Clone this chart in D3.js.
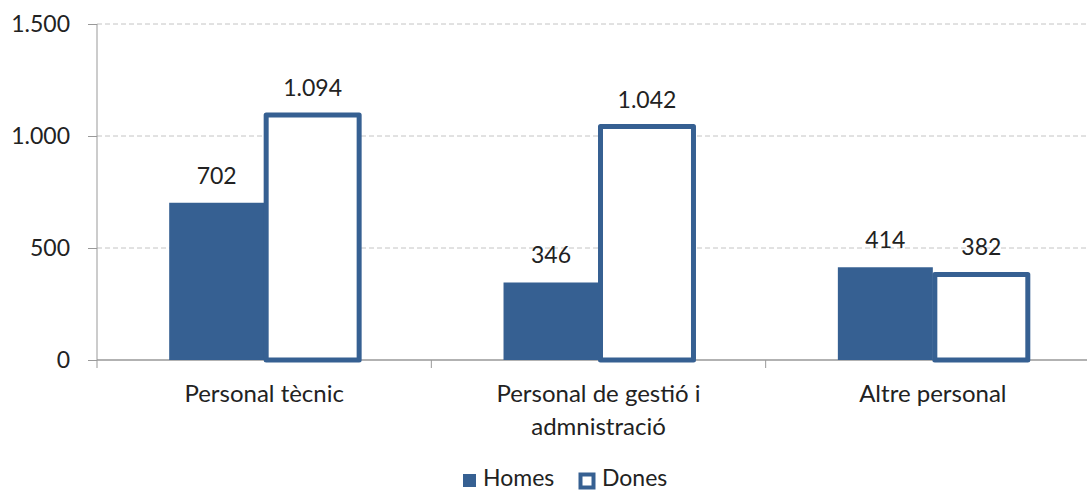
<!DOCTYPE html>
<html>
<head>
<meta charset="utf-8">
<script src="https://cdn.jsdelivr.net/npm/d3@7"></script>
<style>
  body { margin: 0; background: #fff; }
  text { font-family: Lato, "Liberation Sans", sans-serif; fill: #222; }
</style>
</head>
<body>
<svg id="chart"></svg>
<script>
// data
var categories = ["Personal tècnic", "Personal de gestió i\nadmnistració", "Altre personal"];
var seriesNames = ["Homes", "Dones"];
var homes = [702, 346, 414];
var dones = [1094, 1042, 382];
var yTicks = [0, 500, 1000, 1500];

var screen = {width: 1087, height: 493};
var margins = {left: 97, right: -13, top: 24, bottom: 133};

var graph = {
    width: screen.width - margins.left - margins.right,
    height: screen.height - margins.top - margins.bottom
};

var blue = "#366092";

var svg = d3.select("#chart")
    .attr("width", screen.width)
    .attr("height", screen.height);

var xScale = d3.scaleBand()
    .domain(categories)
    .range([0, graph.width]);

var xSub = d3.scaleBand()
    .domain(seriesNames)
    .range([0, xScale.bandwidth()])
    .paddingOuter(0.76);

var yScale = d3.scaleLinear()
    .domain([0, 1500])
    .range([graph.height, 0]);

var g = svg.append("g")
    .attr("transform", "translate(" + margins.left + "," + margins.top + ")");

// gridlines
g.selectAll(".grid")
    .data(yTicks.filter(function(d){ return d > 0; }))
    .enter().append("line")
    .attr("x1", 0).attr("x2", graph.width)
    .attr("y1", function(d){ return yScale(d); })
    .attr("y2", function(d){ return yScale(d); })
    .attr("stroke", "#c4c4c4")
    .attr("stroke-width", 1)
    .attr("stroke-dasharray", "5,3");

var fmt = function(v){ return d3.format(",")(v).replace(/,/g, "."); };

// y axis
var yAxis = d3.axisLeft(yScale)
    .tickValues(yTicks)
    .tickSize(9)
    .tickPadding(18)
    .tickFormat(fmt);

var ya = g.append("g").call(yAxis);
ya.select(".domain").attr("stroke", "#999").attr("d", "M0," + (graph.height + 8) + "V0");
ya.selectAll(".tick line").attr("stroke", "#999");
ya.selectAll(".tick text").style("font-size", "23px").attr("fill", "#222");

// x axis baseline with category dividers
var xa = g.append("g").attr("transform", "translate(0," + graph.height + ")");
xa.append("line")
    .attr("x1", 0).attr("x2", graph.width)
    .attr("stroke", "#999").attr("stroke-width", 1.3);
xa.selectAll(".divider")
    .data(categories)
    .enter().append("line")
    .attr("x1", function(d){ return xScale(d) + xScale.bandwidth(); })
    .attr("x2", function(d){ return xScale(d) + xScale.bandwidth(); })
    .attr("y1", 0).attr("y2", 8)
    .attr("stroke", "#999");

// bars
var groups = g.selectAll(".group")
    .data(categories)
    .enter().append("g")
    .attr("transform", function(d){ return "translate(" + xScale(d) + ",0)"; });

groups.append("rect")
    .attr("x", xSub("Homes"))
    .attr("width", xSub.bandwidth())
    .attr("y", function(d, i){ return yScale(homes[i]); })
    .attr("height", function(d, i){ return graph.height - yScale(homes[i]); })
    .attr("fill", blue);

groups.append("rect")
    .attr("x", xSub("Dones") + 2)
    .attr("width", xSub.bandwidth() - 2)
    .attr("y", function(d, i){ return yScale(dones[i]); })
    .attr("height", function(d, i){ return graph.height - yScale(dones[i]); })
    .attr("fill", "#fff")
    .attr("stroke", blue)
    .attr("stroke-width", 5)
    .attr("stroke-linejoin", "round");

groups.append("text")
    .attr("x", xSub("Homes") + xSub.bandwidth() / 2)
    .attr("y", function(d, i){ return yScale(homes[i]) - 19; })
    .attr("text-anchor", "middle")
    .style("font-size", "23px")
    .text(function(d, i){ return fmt(homes[i]); });

groups.append("text")
    .attr("x", xSub("Dones") + xSub.bandwidth() / 2 + 1)
    .attr("y", function(d, i){ return yScale(dones[i]) - 19; })
    .attr("text-anchor", "middle")
    .style("font-size", "23px")
    .text(function(d, i){ return fmt(dones[i]); });

// category labels
groups.each(function(d){
    var lines = d.split("\n");
    var t = d3.select(this).append("text")
        .attr("text-anchor", "middle")
        .style("font-size", "24px");
    lines.forEach(function(line, k){
        t.append("tspan")
            .attr("x", xScale.bandwidth() / 2)
            .attr("y", graph.height + 42 + k * 33)
            .text(line);
    });
});

// legend
var legend = svg.append("g").attr("transform", "translate(463,474)");
legend.append("rect")
    .attr("x", 0).attr("y", 0).attr("width", 13).attr("height", 13)
    .attr("fill", blue);
legend.append("text")
    .attr("x", 20).attr("y", 12)
    .style("font-size", "23px")
    .text(seriesNames[0]);
legend.append("rect")
    .attr("x", 117.5).attr("y", 0.5).attr("width", 13).attr("height", 13)
    .attr("fill", "#fff").attr("stroke", blue).attr("stroke-width", 4);
legend.append("text")
    .attr("x", 139).attr("y", 12)
    .style("font-size", "23px")
    .text(seriesNames[1]);
</script>
</body>
</html>
